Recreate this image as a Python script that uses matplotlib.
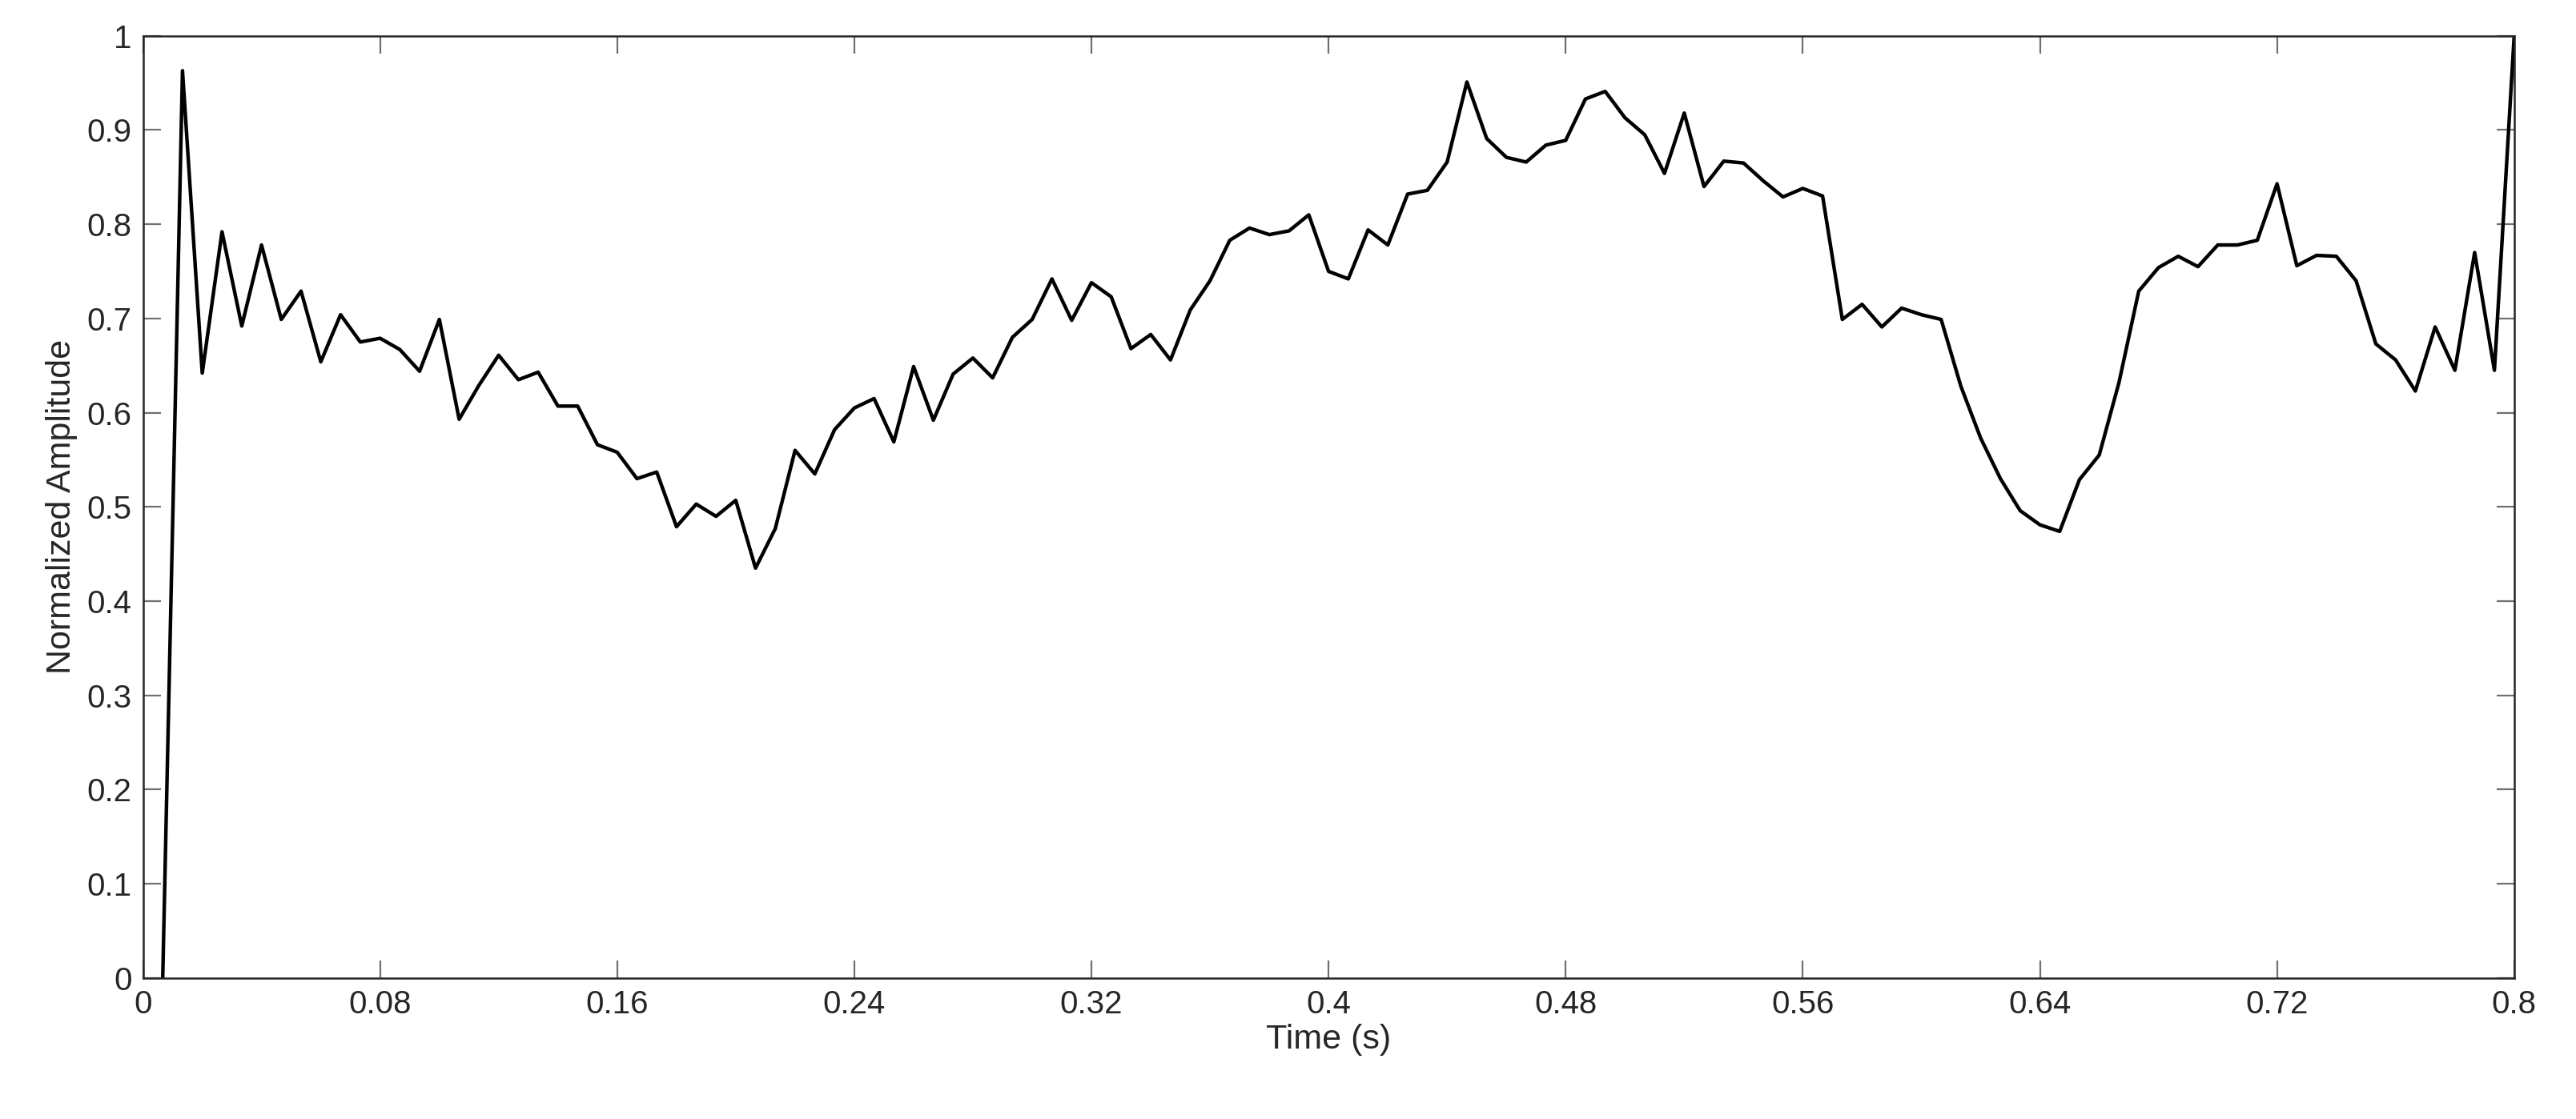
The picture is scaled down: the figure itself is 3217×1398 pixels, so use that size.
import numpy as np
import matplotlib
matplotlib.use("Agg")
import matplotlib.pyplot as plt

dt = 1/150
amp = [0.0, 0.963, 0.642, 0.792, 0.692, 0.778, 0.699, 0.729, 0.654, 0.704,
       0.675, 0.679, 0.667, 0.644, 0.699, 0.593, 0.629, 0.661, 0.635, 0.643,
       0.607, 0.607, 0.566, 0.558, 0.530, 0.537, 0.479, 0.503, 0.490, 0.507,
       0.435, 0.477, 0.560, 0.535, 0.582, 0.605, 0.615, 0.569, 0.649, 0.592,
       0.641, 0.658, 0.637, 0.680, 0.699, 0.742, 0.698, 0.738, 0.723, 0.668,
       0.683, 0.656, 0.709, 0.740, 0.783, 0.796, 0.789, 0.793, 0.810, 0.750,
       0.742, 0.794, 0.778, 0.832, 0.836, 0.866, 0.951, 0.891, 0.871, 0.866,
       0.884, 0.889, 0.933, 0.941, 0.913, 0.895, 0.854, 0.918, 0.840, 0.867,
       0.865, 0.846, 0.829, 0.838, 0.830, 0.699, 0.715, 0.691, 0.711, 0.704,
       0.699, 0.628, 0.573, 0.530, 0.496, 0.481, 0.474, 0.529, 0.555, 0.632,
       0.729, 0.754, 0.766, 0.755, 0.778, 0.778, 0.783, 0.843, 0.756, 0.767,
       0.766, 0.740, 0.673, 0.656, 0.623, 0.691, 0.645, 0.770, 0.645, 1.0]
time = [(i + 1) * dt for i in range(len(amp))]
xticks = [0, 0.08, 0.16, 0.24, 0.32, 0.4, 0.48, 0.56, 0.64, 0.72, 0.8]
xticklabels = ["0", "0.08", "0.16", "0.24", "0.32", "0.4", "0.48", "0.56", "0.64", "0.72", "0.8"]
yticks = [0, 0.1, 0.2, 0.3, 0.4, 0.5, 0.6, 0.7, 0.8, 0.9, 1]
yticklabels = ["0", "0.1", "0.2", "0.3", "0.4", "0.5", "0.6", "0.7", "0.8", "0.9", "1"]

plt.rcParams['font.family'] = ['Liberation Sans', 'DejaVu Sans']
fig = plt.figure(figsize=(16.085, 6.99), dpi=200)
ax = fig.add_axes([0.0555, 0.126, 0.9205, 0.842])
ax.plot(time, amp, color='black', linewidth=1.6)
ax.set_xlim(0, 0.8)
ax.set_ylim(0, 1)
ax.set_xticks(xticks)
ax.set_xticklabels(xticklabels)
ax.set_yticks(yticks)
ax.set_yticklabels(yticklabels)
ax.tick_params(direction='in', length=8, width=0.8, color='#707070',
               top=True, right=True, labelsize=14.5, labelcolor='#262626', pad=5)
for s in ax.spines.values():
    s.set_linewidth(0.9)
    s.set_color('#262626')
ax.set_xlabel("Time (s)", fontsize=15.5, color='#262626', labelpad=2)
ax.set_ylabel("Normalized Amplitude", fontsize=15.5, color='#262626', labelpad=4)
fig.savefig("out.png", dpi=200)
